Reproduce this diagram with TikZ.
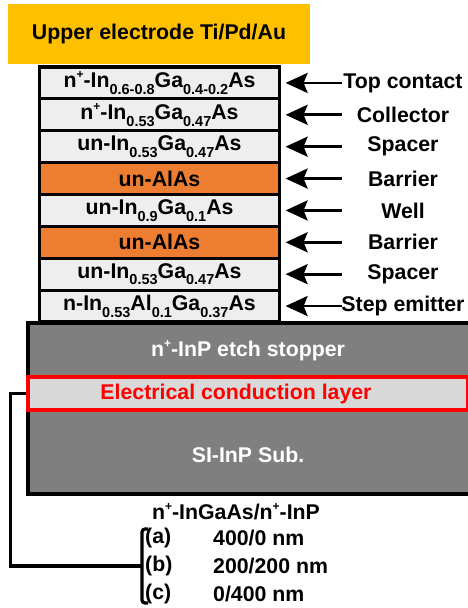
\documentclass[tikz,border=0pt]{standalone}
\usepackage{fontspec}
\setmainfont{Liberation Sans}
\usepackage{xcolor}
\usetikzlibrary{positioning,arrows.meta}
\definecolor{metal}    {HTML}{FFC000}
\definecolor{alas}     {HTML}{ED7D31}
\definecolor{epi}      {HTML}{EEEEEE}
\definecolor{subst}    {HTML}{7F7F7F}
\definecolor{condfill} {HTML}{D9D9D9}
\definecolor{condred}  {HTML}{FF0000}
% doping mark and composition index
\newcommand{\np}{n\raisebox{0.42em}{\fontsize{12}{12}\selectfont +}}
\newcommand{\lsub}[1]{\raisebox{-0.32em}{\fontsize{14.5}{14.5}\selectfont #1}}
\tikzset{
  bigfont/.style = {font=\fontsize{21.3}{24}\selectfont\bfseries},
  electrode/.style = {fill=metal, bigfont, minimum width=302pt, minimum height=60pt},
  layer/.style   = {draw=black, line width=3.2pt, fill=epi, bigfont,
                    minimum width=240pt, minimum height=31.875pt, inner sep=0pt},
  barrier/.style = {layer, fill=alas},
  pointer/.style = {-{Stealth[length=22pt,width=20pt,inset=4pt]}, line width=2.8pt},
  lbl/.style     = {bigfont, inner sep=0pt},
  wire/.style    = {line width=3.2pt},
  edge/.style    = {line width=3.6pt},
}

\begin{document}
\begin{tikzpicture}[x=1pt,y=-1pt]
  \useasboundingbox (0,0) rectangle (468,608);

  % top metal
  \node[electrode] (top) at (159,34) {Upper electrode Ti/Pd/Au};

  % epitaxial layers
  \node[layer]   (l1) at (159.5,82.94)  {\np-In\lsub{0.6-0.8}Ga\lsub{0.4-0.2}As};
  \node[layer]   (l2) at (159.5,114.81) {\np-In\lsub{0.53}Ga\lsub{0.47}As};
  \node[layer]   (l3) at (159.5,146.69) {un-In\lsub{0.53}Ga\lsub{0.47}As};
  \node[barrier] (l4) at (159.5,178.56) {un-AlAs};
  \node[layer]   (l5) at (159.5,210.44) {un-In\lsub{0.9}Ga\lsub{0.1}As};
  \node[barrier] (l6) at (159.5,242.31) {un-AlAs};
  \node[layer]   (l7) at (159.5,274.19) {un-In\lsub{0.53}Ga\lsub{0.47}As};
  \node[layer]   (l8) at (159.5,306.06) {n-In\lsub{0.53}Al\lsub{0.1}Ga\lsub{0.37}As};

  % layer names
  \node[lbl] (n1) at (403,82.94)  {Top contact};
  \node[lbl] (n2) at (403,114.81) {Collector};
  \node[lbl] (n3) at (403,146.69) {Spacer};
  \node[lbl] (n4) at (403,178.56) {Barrier};
  \node[lbl] (n5) at (403,210.44) {Well};
  \node[lbl] (n6) at (403,242.31) {Barrier};
  \node[lbl] (n7) at (403,274.19) {Spacer};
  \node[lbl] (n8) at (403,306.06) {Step emitter};

  \coordinate (t1) at (342,82.94);
  \coordinate (t2) at (342,114.81);
  \coordinate (t3) at (342,146.69);
  \coordinate (t4) at (342,178.56);
  \coordinate (t5) at (342,210.44);
  \coordinate (t6) at (342,242.31);
  \coordinate (t7) at (342,274.19);
  \coordinate (t8) at (342,306.06);
  \draw[pointer] (t1) -- ([xshift=4.5pt]l1.east);
  \draw[pointer] (t2) -- ([xshift=4.5pt]l2.east);
  \draw[pointer] (t3) -- ([xshift=4.5pt]l3.east);
  \draw[pointer] (t4) -- ([xshift=4.5pt]l4.east);
  \draw[pointer] (t5) -- ([xshift=4.5pt]l5.east);
  \draw[pointer] (t6) -- ([xshift=4.5pt]l6.east);
  \draw[pointer] (t7) -- ([xshift=4.5pt]l7.east);
  \draw[pointer] (t8) -- ([xshift=4.5pt]l8.east);

  % InP block with the conduction layer
  \fill[subst] (28,323) rectangle (468,494);
  \draw[edge] (468,323) -- (28,323) -- (28,494) -- (468,494);
  \node[lbl, text=white] (stop) at (248,351) {\np-InP etch stopper};
  \node[draw=condred, line width=3.2pt, fill=condfill, minimum width=440pt,
        minimum height=33pt, inner sep=0pt] (ecl) at (248,393.5) {};
  \node[lbl, text=condred] (ecltxt) at (236,394) {Electrical conduction layer};
  \node[lbl, text=white] (sub) at (248,455) {SI-InP Sub.};

  % contact wire and thickness list
  \coordinate (brk) at (142,566);
  \draw[wire] (ecl.west) -- ++(-16,0) |- (brk);
  \draw[wire, rounded corners=3pt] (148,529) -- (142,529) -- (142,603) -- (148,603);

  \node[lbl] (pair) at (236,512) {\np-InGaAs/\np-InP};
  \node[lbl, anchor=west] (ca) at (145,538) {(a)};
  \node[lbl, anchor=west] (cb) at (145,566) {(b)};
  \node[lbl, anchor=west] (cc) at (145,594) {(c)};
  \node[lbl, anchor=west] (va) at (213,538) {400/0 nm};
  \node[lbl, anchor=west] (vb) at (213,566) {200/200 nm};
  \node[lbl, anchor=west] (vc) at (213,594) {0/400 nm};
\end{tikzpicture}
\end{document}
